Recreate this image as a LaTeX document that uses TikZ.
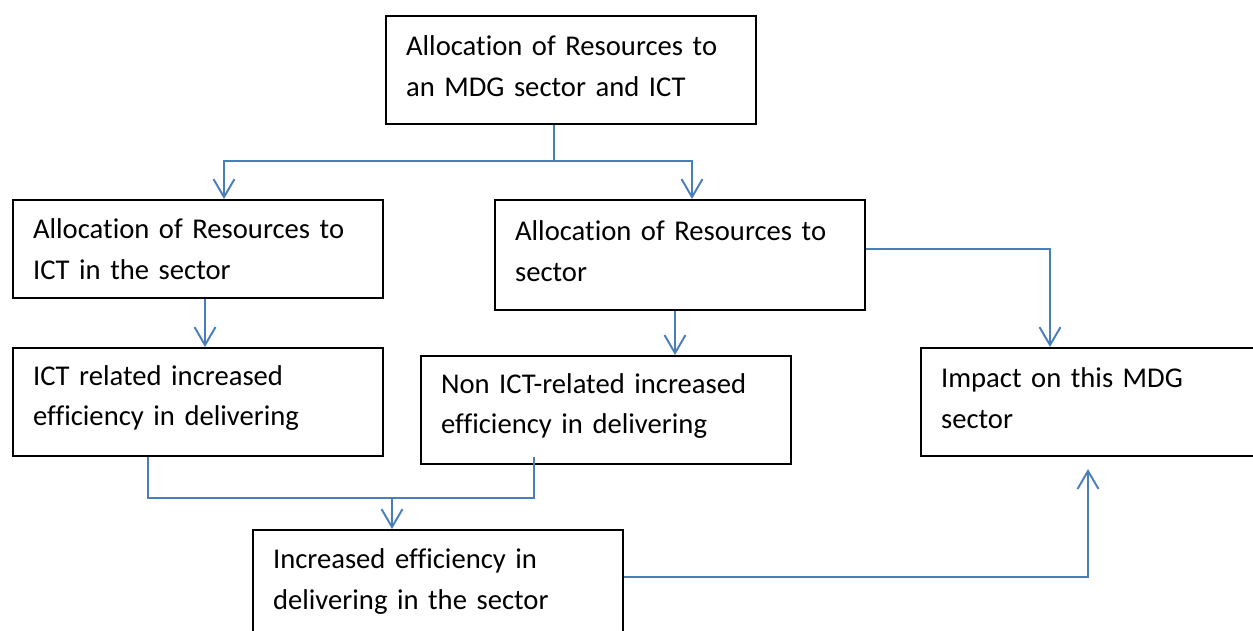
\documentclass[tikz,border=0pt]{standalone}
\usepackage{fontspec}
\setmainfont{Carlito}[RawFeature=-liga]
\usetikzlibrary{arrows.meta}

\definecolor{flowblue}{RGB}{74,126,187}

\tikzset{
  box lift/.initial=0.16cm,
  box/.style={draw=black, line width=1.2pt, fill=white, anchor=north west,
    minimum width=7.4cm, text width=6.6cm, inner xsep=0.4cm, align=left,
    font=\fontsize{16.3pt}{23.3pt}\selectfont,
    execute at end node={\par\vspace*{\pgfkeysvalueof{/tikz/box lift}}}},
  link/.style={draw=flowblue, line width=1.1pt},
  arr/.style={link, -{Straight Barb[length=0.36cm, width=0.42cm, line width=1.1pt]}}
}

\begin{document}
\begin{tikzpicture}[x=0.02cm, y=-0.02cm]
  \useasboundingbox (0,0) rectangle (1253,631);

  % boxes
  \node[box, minimum height=2.16cm] (alloc) at (385,15) {Allocation of Resources to\\an MDG sector and ICT};
  \node[box, minimum height=1.96cm, box lift=0cm] (ictalloc) at (12,199) {Allocation of Resources to\\ICT in the sector};
  \node[box, minimum height=2.2cm] (secalloc) at (494,199) {Allocation of Resources to\\sector};
  \node[box, minimum height=2.16cm] (icteff) at (12,347) {ICT related increased\\efficiency in delivering};
  \node[box, minimum height=2.16cm] (nonict) at (420,355) {Non ICT-related increased\\efficiency in delivering};
  \node[box, minimum height=2.16cm] (impact) at (920,347) {Impact on this MDG\\sector};
  \node[box, minimum height=2.4cm, box lift=0.34cm] (incr) at (252,529) {Increased efficiency in\\delivering in the sector};

  % connectors
  \coordinate (split) at (554,161);
  \coordinate (merge) at (392,498);
  \draw[link] (554,0 |- alloc.south) -- (split);
  \draw[arr] (split) -| (224,0 |- ictalloc.north);
  \draw[arr] (split) -| (692,0 |- secalloc.north);
  \draw[arr] (205,0 |- ictalloc.south) -- (205,0 |- icteff.north);
  \draw[arr] (675,0 |- secalloc.south) -- (675,0 |- nonict.north);
  \draw[arr] (secalloc.east |- 0,249) -| (1050,0 |- impact.north);
  \draw[link] (148,0 |- icteff.south) |- (merge) -| ([yshift=0.16cm]534,0 |- nonict.south);
  \draw[arr] (merge) -- (392,0 |- incr.north);
  \draw[arr, shorten >=0.24cm] (incr.east |- 0,577) -| (1088,0 |- impact.south);
\end{tikzpicture}
\end{document}
